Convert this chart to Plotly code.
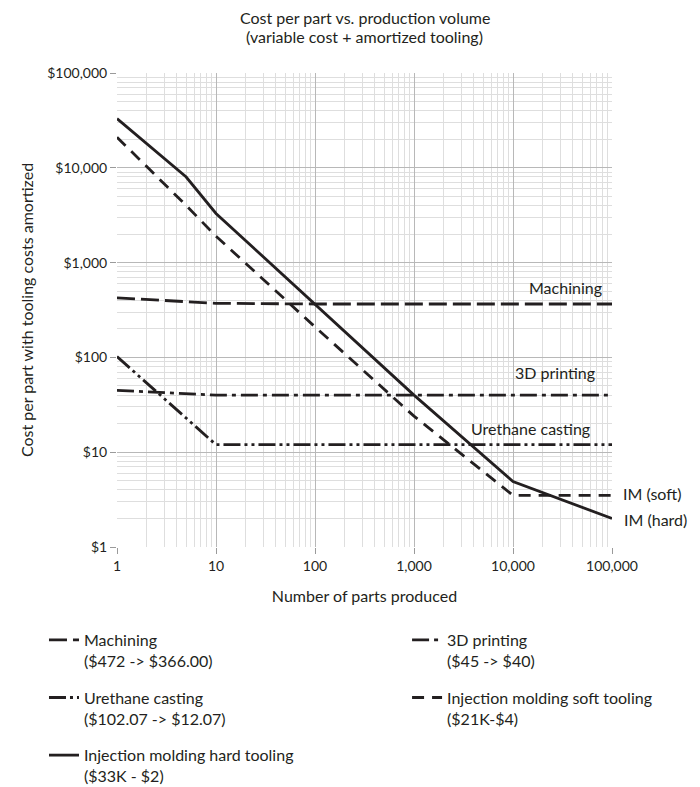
import plotly.graph_objects as go

parts = [1, 5, 10, 100, 1000, 10000, 100000]

machining = [425, 390, 372, 366, 366, 366, 366]
printing_3d = [45, 41.7, 40, 40, 40, 40, 40]
urethane = [102, 23, 12, 12, 12, 12, 12]
im_soft = [21000, 4000, 1900, 210, 24, 3.5, 3.5]
im_hard = [33000, 8000, 3300, 360, 40, 4.9, 2]

series_names = [
    "Machining<br>($472 -> $366.00)",
    "3D printing<br>($45 -> $40)",
    "Urethane casting<br>($102.07 -> $12.07)",
    "Injection molding soft tooling<br>($21K-$4)",
    "Injection molding hard tooling<br>($33K - $2)",
]

x_tick_vals = [1, 10, 100, 1000, 10000, 100000]
x_tick_text = ["1", "10", "100", "1,000", "10,000", "100,000"]
y_tick_vals = [1, 10, 100, 1000, 10000, 100000]
y_tick_text = ["$1", "$10", "$100", "$1,000", "$10,000", "$100,000"]
minor_vals = [m * 10 ** d for d in range(5) for m in range(2, 10)]

FONT = "Lato"
INK = "#231f20"

fig = go.Figure()

# dash style, which of the two legend columns
styles = [
    ("18px,6px", "legend"),
    ("17px,5px,4px,5px", "legend2"),
    ("17px,4px,3px,4px,3px,4px", "legend"),
    ("12px,8px", "legend2"),
    ("solid", "legend"),
]

all_series = [machining, printing_3d, urethane, im_soft, im_hard]
for i, (name, vals, (dash, leg)) in enumerate(zip(series_names, all_series, styles)):
    fig.add_trace(go.Scatter(
        x=parts, y=vals, mode="lines", name=name,
        legend=leg, legendgroup=f"g{i}",
        line=dict(color=INK, width=2.8, dash=dash),
    ))

axis_common = dict(
    type="log",
    range=[0, 5],
    automargin=False,
    showline=False,
    gridcolor="#b8b8b8",
    gridwidth=1,
    ticks="outside",
    ticklen=6,
    tickcolor="#9a9a9a",
    zeroline=False,
    tickfont=dict(family=FONT, size=14, color=INK),
    minor=dict(tickvals=minor_vals, showgrid=True, gridcolor="#dedede", gridwidth=1, ticks=""),
)

fig.update_xaxes(
    **axis_common,
    tickvals=x_tick_vals,
    ticktext=x_tick_text,
    title=dict(text="Number of parts produced", font=dict(family=FONT, size=16, color=INK), standoff=18),
)
fig.update_yaxes(
    **axis_common,
    tickvals=y_tick_vals,
    ticktext=y_tick_text,
    title=dict(text="Cost per part with tooling costs amortized", font=dict(family=FONT, size=16, color=INK), standoff=9),
)

labels = [
    ("Machining", 0.984, 0.5485, "right"),
    ("3D printing", 0.970, 0.369, "right"),
    ("Urethane casting", 0.960, 0.251, "right"),
    ("IM (soft)", 1.018, 0.112, "left"),
    ("IM (hard)", 1.020, 0.059, "left"),
]
for text, x, y, anchor in labels:
    fig.add_annotation(text=text, x=x, y=y, xref="paper", yref="paper",
                       xanchor=anchor, yanchor="middle", showarrow=False,
                       font=dict(family=FONT, size=16, color=INK))

fig.add_annotation(text="Cost per part vs. production volume", x=0.5, y=1.118,
                   xref="paper", yref="paper", showarrow=False, yanchor="middle",
                   font=dict(family=FONT, size=16, color=INK))
fig.add_annotation(text="(variable cost + amortized tooling)", x=0.5, y=1.0765,
                   xref="paper", yref="paper", showarrow=False, yanchor="middle",
                   font=dict(family=FONT, size=16, color=INK))

legend_common = dict(
    orientation="v",
    xanchor="left",
    yanchor="top",
    yref="container",
    y=0.2105,
    valign="top",
    font=dict(family=FONT, size=16, color=INK),
    tracegroupgap=13,
    bgcolor="rgba(0,0,0,0)",
)

# page body keeps an 8px margin, so the figure is 8px smaller than the window
fig.update_layout(
    width=692,
    height=779,
    margin=dict(l=109, r=88, t=65, b=240),
    paper_bgcolor="white",
    plot_bgcolor="white",
    font=dict(family=FONT, size=16, color=INK),
    legend=dict(x=-0.1475, **legend_common),
    legend2=dict(x=0.586, **legend_common),
)

fig.write_html("out.html")
